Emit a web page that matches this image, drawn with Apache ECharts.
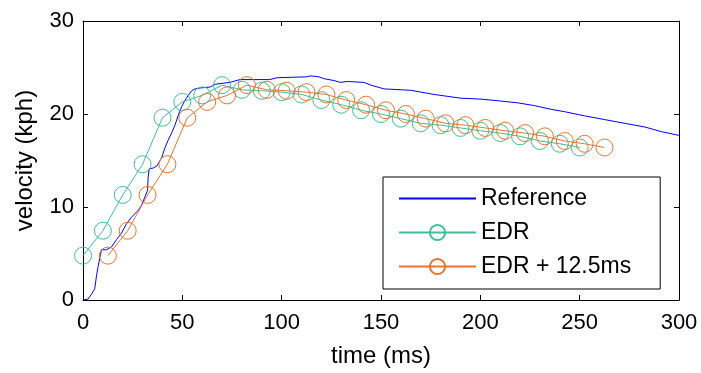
<!DOCTYPE html>
<html>
<head>
<meta charset="utf-8">
<script src="https://cdn.jsdelivr.net/npm/echarts@6/dist/echarts.min.js"></script>
<style>
html,body{margin:0;padding:0;background:#fff;}
#c{width:701px;height:373px;}
</style>
</head>
<body>
<div id="c"></div>
<script>
// ---- data ----
const refTime = [0, 2.5, 4.2, 5.9, 6.8, 7.6, 8.8, 9.3, 11.8, 14.3, 16.9, 19.4, 21.9, 24.4, 27.8, 29.5, 31.2, 32.5, 32.8, 33.3, 35.4, 37.1, 39.6, 41.3, 42.9, 44.6, 46.3, 48, 49.7, 51.4, 53, 54.7, 56.4, 58.9, 64, 66.5, 74, 79, 86, 94, 97.7, 112.8, 114.5, 118.7, 121.2, 126.3, 129.6, 133, 141.4, 145, 151.5, 165, 176.8, 190.2, 200.3, 210, 218.8, 227.3, 235.7, 242.4, 252.5, 262.6, 272.7, 282.8, 291.2, 300];
const refVelocity = [0, 0.1, 0.6, 1.2, 2.6, 3.6, 4.9, 5.4, 5.4, 5.7, 6.5, 7.2, 8.2, 8.9, 9.65, 10.2, 11.1, 11.8, 13.2, 14.1, 14.2, 14.4, 15.3, 16.4, 17.2, 17.95, 18.8, 19.9, 20.8, 21.5, 22.0, 22.5, 22.7, 22.8, 22.9, 23.2, 23.4, 23.7, 23.7, 23.7, 23.9, 24.0, 24.1, 24.0, 23.8, 23.6, 23.4, 23.5, 23.4, 23.1, 22.7, 22.55, 22.1, 21.7, 21.6, 21.4, 21.2, 20.9, 20.5, 20.25, 19.8, 19.4, 19.0, 18.6, 18.1, 17.7];

const edrTime = [0, 10, 20, 30, 40, 50, 60, 70, 80, 90, 100, 110, 120, 130, 140, 150, 160, 170, 180, 190, 200, 210, 220, 230, 240, 250];
const edrVelocity = [4.77, 7.45, 11.3, 14.6, 19.6, 21.3, 22.0, 23.1, 22.6, 22.5, 22.35, 22.1, 21.5, 21.0, 20.4, 20.0, 19.5, 19.0, 18.8, 18.5, 18.2, 17.95, 17.6, 17.1, 16.8, 16.4];

const edrShiftTime = [12.5, 22.5, 32.5, 42.5, 52.5, 62.5, 72.5, 82.5, 92.5, 102.5, 112.5, 122.5, 132.5, 142.5, 152.5, 162.5, 172.5, 182.5, 192.5, 202.5, 212.5, 222.5, 232.5, 242.5, 252.5, 262.5];
const edrShiftVelocity = edrVelocity;

const xTicks = [0, 50, 100, 150, 200, 250, 300];
const yTicks = [0, 10, 20, 30];
const seriesNames = ['Reference', 'EDR', 'EDR + 12.5ms'];

// ---- chart ----
const FONT = 'Liberation Sans, Arial, Helvetica, sans-serif';
const BLUE = '#0000ff', GREEN = '#3dbf98', ORANGE = '#e9742a';
const CLEAR = 'rgba(255,255,255,0)';
const zip = (a, b) => a.map((v, i) => [v, b[i]]);

const chart = echarts.init(document.getElementById('c'), null, {renderer: 'canvas'});
const axisCommon = {
  axisLine: {show: true, onZero: false, lineStyle: {color: '#000', width: 1}},
  axisTick: {show: true, inside: true, length: 5, lineStyle: {color: '#000', width: 1}},
  splitLine: {show: false}
};
chart.setOption({
  animation: false,
  backgroundColor: '#fff',
  grid: {left: 83, right: 22, top: 21, bottom: 69, containLabel: false},
  xAxis: [
    Object.assign({
      type: 'value', min: xTicks[0], max: xTicks[xTicks.length - 1], interval: xTicks[1] - xTicks[0],
      position: 'bottom',
      name: 'time (ms)', nameLocation: 'middle', nameGap: 44,
      nameTextStyle: {fontFamily: FONT, fontSize: 24, color: '#000'},
      axisLabel: {show: true, margin: 12, fontFamily: FONT, fontSize: 22, color: '#000'}
    }, axisCommon),
    Object.assign({
      type: 'value', min: xTicks[0], max: xTicks[xTicks.length - 1], interval: xTicks[1] - xTicks[0],
      position: 'top', axisLabel: {show: false}
    }, axisCommon)
  ],
  yAxis: [
    Object.assign({
      type: 'value', min: yTicks[0], max: yTicks[yTicks.length - 1], interval: yTicks[1] - yTicks[0],
      position: 'left',
      name: 'velocity (kph)', nameLocation: 'middle', nameGap: 46,
      nameTextStyle: {fontFamily: FONT, fontSize: 24, color: '#000'},
      axisLabel: {show: true, margin: 9, fontFamily: FONT, fontSize: 22, color: '#000'}
    }, axisCommon),
    Object.assign({
      type: 'value', min: yTicks[0], max: yTicks[yTicks.length - 1], interval: yTicks[1] - yTicks[0],
      position: 'right', axisLabel: {show: false}
    }, axisCommon)
  ],
  legend: {
    orient: 'vertical', left: 383, top: 177,
    data: [
      {name: seriesNames[0], itemStyle: {color: CLEAR, borderColor: CLEAR, borderWidth: 0, opacity: 0}},
      seriesNames[1],
      seriesNames[2]
    ],
    itemWidth: 77, itemHeight: 19, itemGap: 11, itemTextGap: 10,
    padding: [10, 29, 11, 15],
    borderColor: '#000', borderWidth: 1, backgroundColor: '#fff',
    textStyle: {fontFamily: FONT, fontSize: 23, color: '#000'}
  },
  series: [
    {
      name: seriesNames[0], type: 'line', data: zip(refTime, refVelocity),
      symbol: 'none', lineStyle: {color: BLUE, width: 1}, itemStyle: {color: BLUE},
      z: 2
    },
    {
      name: seriesNames[1], type: 'line', data: zip(edrTime, edrVelocity),
      symbol: 'circle', symbolSize: 17,
      lineStyle: {color: GREEN, width: 1},
      itemStyle: {color: CLEAR, borderColor: GREEN, borderWidth: 1},
      z: 3
    },
    {
      name: seriesNames[2], type: 'line', data: zip(edrShiftTime, edrShiftVelocity),
      symbol: 'circle', symbolSize: 17,
      lineStyle: {color: ORANGE, width: 1},
      itemStyle: {color: CLEAR, borderColor: ORANGE, borderWidth: 1},
      z: 4
    }
  ]
});
</script>
</body>
</html>
